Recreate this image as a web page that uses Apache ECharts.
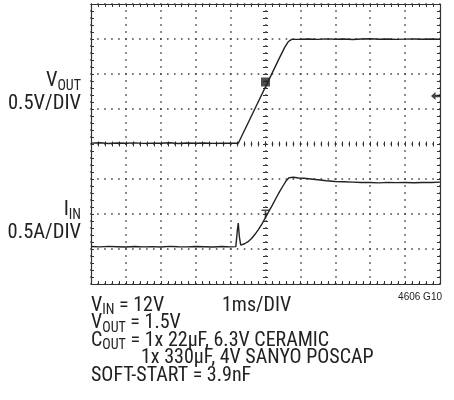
<!DOCTYPE html>
<html><head><meta charset="utf-8">
<script src="https://cdn.jsdelivr.net/npm/echarts@6/dist/echarts.min.js"></script>
<style>html,body{margin:0;padding:0;background:#fff}#c{width:454px;height:400px}</style>
</head><body><div id="c"></div>
<script>
// ---- data (time in ms, 1 ms/div) ----
const voutTime = [0,0.25,0.5,0.75,1.0,1.25,1.5,1.75,2.0,2.25,2.5,2.75,3.0,3.25,3.5,3.75,4.0,4.22,
  4.5,4.8,5.1,5.4,5.55,5.65,5.75,6.0,6.25,6.5,6.75,7.0,7.25,7.5,7.75,8.0,8.25,8.5,8.75,9.0,9.25,9.5,9.75,10];
const voutV = [0.012,0.018,0.008,0.015,0.010,0.016,0.009,0.013,0.011,0.017,0.008,0.014,0.010,0.015,0.009,0.013,0.011,0.010,
  0.30,0.61,0.92,1.23,1.38,1.46,1.495,1.497,1.500,1.495,1.502,1.497,1.500,1.493,1.499,1.503,1.496,1.500,1.494,1.498,1.500,1.496,1.499,1.497];
const iinTime = [0,0.25,0.5,0.75,1.0,1.25,1.5,1.75,2.0,2.25,2.5,2.75,3.0,3.25,3.5,3.75,4.0,4.15,4.2,4.22,4.25,4.29,
  4.4,4.5,4.6,4.7,4.8,4.9,5.0,5.1,5.2,5.3,5.4,5.5,5.6,5.68,5.8,5.95,6.1,6.3,6.5,6.75,7.0,7.25,7.5,7.75,8.0,8.25,8.5,8.75,9.0,9.25,9.5,9.75,10];
const iinA = [0.035,0.030,0.038,0.033,0.028,0.036,0.031,0.034,0.029,0.037,0.032,0.030,0.036,0.033,0.028,0.035,0.031,0.034,0.30,0.37,0.18,0.055,
  0.075,0.105,0.15,0.21,0.28,0.36,0.45,0.54,0.63,0.725,0.815,0.90,0.98,1.02,1.025,1.015,1.01,1.0,0.99,0.975,0.965,0.96,0.955,0.95,0.95,0.945,0.952,0.948,0.95,0.946,0.951,0.949,0.955];
// markers: channel marker on VOUT, ground-ref arrow, trigger point on IIN
const chanMarker = [5.0, 0.886];
const refArrow = [10, 0.686];
const trigMarker = [5.0, 0.5];

const FF = "'Liberation Sans Narrow','Roboto Condensed','DejaVu Sans Condensed','Liberation Sans',sans-serif";
const INK = '#222';
const G = {l:91, t:4, w:349, h:280};

const grids = [{left:G.l, top:G.t, width:G.w, height:G.h, show:false}];
const xAxes = [{gridIndex:0, type:'value', min:0, max:10, interval:1,
  axisLine:{show:false}, axisTick:{show:false}, axisLabel:{show:false},
  splitLine:{show:true, lineStyle:{color:'#444', width:1.6, type:[1.6,5.4], dashOffset:0.8}}}];
const yAxes = [
  {gridIndex:0, type:'value', min:-2, max:2, interval:0.5,
   axisLine:{show:false}, axisTick:{show:false}, axisLabel:{show:false},
   splitLine:{show:true, lineStyle:{color:'#444', width:1.6, type:[1.6,5.38], dashOffset:0.8}}},
  {gridIndex:0, type:'value', min:-0.5, max:3.5, interval:0.5, show:false}
];
function frameAxis(gi, pos, outer, isX){
  const ls = {color:'#333', width:1};
  return {gridIndex:gi, type:'value', position:pos, min:0, max:isX?5:4, interval:1,
    axisLine:{show:outer, onZero:false, lineStyle:{color:'#333', width:1.2}},
    axisTick:{show:true, inside:true, length:outer?3:2.5, lineStyle:ls},
    minorTick:{show:true, splitNumber:5, length:outer?3:2.5, lineStyle:ls},
    axisLabel:{show:false}, splitLine:{show:false}};
}
[[0,0],[1,0],[0,1],[1,1]].forEach(([c,r],i)=>{
  const gi = i+1;
  grids.push({left:G.l+c*G.w/2, top:G.t+r*G.h/2, width:G.w/2, height:G.h/2, show:false});
  xAxes.push(frameAxis(gi,'bottom', r===1, true));
  xAxes.push(frameAxis(gi,'top', r===0, true));
  yAxes.push(frameAxis(gi,'left', c===0, false));
  yAxes.push(frameAxis(gi,'right', c===1, false));
});

const zip = (a,b)=>a.map((v,i)=>[v,b[i]]);
const series = [
  {type:'line', xAxisIndex:0, yAxisIndex:0, data:zip(voutTime,voutV), showSymbol:false, silent:true,
   lineStyle:{color:INK, width:1.4}, z:5},
  {type:'line', xAxisIndex:0, yAxisIndex:1, data:zip(iinTime,iinA), showSymbol:false, silent:true,
   lineStyle:{color:INK, width:1.4}, z:5},
  {type:'scatter', xAxisIndex:0, yAxisIndex:0, data:[chanMarker], symbol:'rect', symbolSize:9,
   itemStyle:{color:'#222'}, z:6, silent:true},
  {type:'scatter', xAxisIndex:0, yAxisIndex:0, data:[refArrow],
   symbol:'path://M0,5 L6,0 L6,3.5 L12,3.5 L12,6.5 L6,6.5 L6,10 Z', symbolSize:[9,8], symbolOffset:[-4.5,0],
   itemStyle:{color:'#111'}, z:6, silent:true},
  {type:'scatter', xAxisIndex:0, yAxisIndex:1, data:[trigMarker],
   symbol:'path://M0,0 L10,0 L10,2 L6,2 L6,12 L4,12 L4,2 L0,2 Z', symbolSize:[8,9],
   itemStyle:{color:'#222'}, z:6, silent:true}
];

// ---- text with subscripts (measured so pieces sit side by side) ----
const MAIN = 20, SUB = 14, SUBDY = 5;
const ctx = document.createElement('canvas').getContext('2d');
function w(t, size){ ctx.font = size+'px '+FF; return ctx.measureText(t).width; }
function line(x, yc, parts, align, size){
  const m = size || MAIN;
  const sizes = parts.map(p=>p[1]?SUB:m);
  const widths = parts.map((p,i)=>w(p[0], sizes[i]));
  const total = widths.reduce((a,b)=>a+b,0);
  let cx = align==='right' ? x-total : x;
  return parts.map((p,i)=>{
    const el = {type:'text', x:cx, y:yc+(p[1]?SUBDY:0), silent:true,
      style:{text:p[0], align:'left', verticalAlign:'middle', fill:INK, font:sizes[i]+'px '+FF}};
    cx += widths[i];
    return el;
  });
}
const graphic = [].concat(
  line(81, 81, [['V'],['OUT',1]], 'right', 20.5),
  line(81, 104, [['0.5V/DIV']], 'right', 20.5),
  line(81, 210, [['I'],['IN',1]], 'right', 20.5),
  line(81, 233, [['0.5A/DIV']], 'right', 20.5),
  line(91, 305.5, [['V'],['IN',1],[' = 12V']]),
  line(222, 305.5, [['1ms/DIV']]),
  line(91, 323, [['V'],['OUT',1],[' = 1.5V']]),
  line(91, 340.5, [['C'],['OUT',1],[' = 1x 22µF, 6.3V CERAMIC']]),
  line(141, 358, [['1x 330µF, 4V SANYO POSCAP']]),
  line(91, 376, [['SOFT-START = 3.9nF']]),
  [{type:'text', x:442, y:297, silent:true, style:{text:'4606 G10', align:'right', verticalAlign:'middle', fill:INK,
     fontSize:10, fontFamily:'Liberation Sans'}}]
);

const chart = echarts.init(document.getElementById('c'), null, {renderer:'canvas'});
chart.setOption({animation:false, backgroundColor:'#fff', grid:grids, xAxis:xAxes, yAxis:yAxes, series:series, graphic:graphic});
</script></body></html>
